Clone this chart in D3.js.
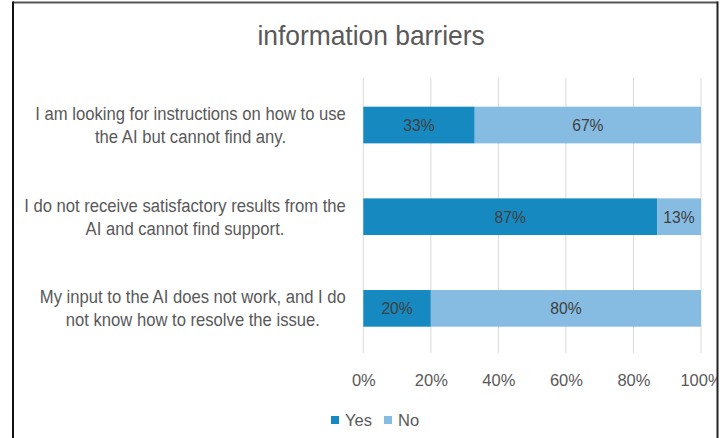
<!DOCTYPE html>
<html>
<head>
<meta charset="utf-8">
<script src="https://cdn.jsdelivr.net/npm/d3@7"></script>
<style>
  html, body { margin: 0; padding: 0; background: #fff; }
  svg { display: block; }
  text { font-family: "Liberation Sans", Arial, sans-serif; }
</style>
</head>
<body>
<svg id="chart" width="725" height="438"></svg>
<script>
// Survey answers per barrier (share of respondents, %)
const categories = [
  ["I am looking for instructions on how to use", "the AI but cannot find any."],
  ["I do not receive satisfactory results from the", "AI and cannot find support."],
  ["My input to the AI does not work, and I do", "not know how to resolve the issue."]
];
const seriesNames = ["Yes", "No"];
const yesValues = [33, 87, 20];
const noValues = [67, 13, 80];
const tickValues = [0, 20, 40, 60, 80, 100];
const titleText = "information barriers";

const colors = { Yes: "#1589C0", No: "#86BBE2" };
const textColor = "#595959";

const svg = d3.select("#chart");
const W = 725, H = 438;

// narrow-looking text: place at (px, py) and squeeze horizontally by k
function narrowText(parent, px, py, k) {
  return parent.append("text")
    .attr("transform", `translate(${px},${py}) scale(${k},1)`);
}

// chart frame (top and left edges)
svg.append("line").attr("x1", 13).attr("x2", 718).attr("y1", 2.5).attr("y2", 2.5)
  .attr("stroke", "#555").attr("stroke-width", 2);
svg.append("line").attr("x1", 13).attr("x2", 13).attr("y1", 1.5).attr("y2", H)
  .attr("stroke", "#111").attr("stroke-width", 2);

// clip everything to the frame interior
svg.append("clipPath").attr("id", "inner")
  .append("rect").attr("x", 14).attr("y", 3.5).attr("width", 703).attr("height", H);
const g = svg.append("g").attr("clip-path", "url(#inner)");

const x = d3.scaleLinear().domain([0, 100]).range([363.3, 701]);
const y = d3.scaleBand().domain(d3.range(categories.length))
  .range([79.2, 354.2]).paddingInner(0.6).paddingOuter(0.3);

// title
narrowText(g, 371, 45, 0.96)
  .attr("text-anchor", "middle")
  .attr("font-size", 27.5)
  .attr("fill", textColor)
  .text(titleText);

// vertical gridlines
g.append("g").selectAll("line").data(tickValues).join("line")
  .attr("x1", d => x(d)).attr("x2", d => x(d))
  .attr("y1", 78).attr("y2", 353)
  .attr("stroke", "#D9D9D9").attr("stroke-width", 1);

// stacked bars
const stacked = categories.map((c, i) => [
  { key: "Yes", x0: 0, x1: yesValues[i], v: yesValues[i], i },
  { key: "No", x0: yesValues[i], x1: yesValues[i] + noValues[i], v: noValues[i], i }
]).flat();

g.append("g").selectAll("rect").data(stacked).join("rect")
  .attr("x", d => x(d.x0))
  .attr("width", d => x(d.x1) - x(d.x0))
  .attr("y", d => y(d.i))
  .attr("height", y.bandwidth())
  .attr("fill", d => colors[d.key]);

// data labels
const dl = g.append("g");
stacked.forEach(d => {
  narrowText(dl, (x(d.x0) + x(d.x1)) / 2, y(d.i) + y.bandwidth() / 2, 0.95)
    .attr("dy", "0.36em")
    .attr("text-anchor", "middle")
    .attr("font-size", 16.5)
    .attr("fill", "#404040")
    .text(d.v + "%");
});

// category labels: centred lines, block right-aligned next to the axis
const labelRight = 346;
const lineH = 23;
const kCat = 0.9;
const catG = g.append("g");
categories.forEach((lines, i) => {
  const cy = y(i) + y.bandwidth() / 2;
  const texts = lines.map(ln => catG.append("text")
    .attr("font-size", 18.5)
    .attr("fill", textColor)
    .attr("text-anchor", "middle")
    .attr("dy", "0.35em")
    .text(ln));
  const w = d3.max(texts, t => t.node().getComputedTextLength()) * kCat;
  texts.forEach((t, k) => t.attr("transform",
    `translate(${labelRight - w / 2},${cy + (k - (lines.length - 1) / 2) * lineH}) scale(${kCat},1)`));
});

// x axis tick labels
const xAxis = d3.axisBottom(x).tickValues(tickValues).tickFormat(d => d + "%").tickSize(0).tickPadding(0);
const ax = g.append("g").attr("transform", "translate(0,380)").call(xAxis);
ax.attr("font-family", null).attr("font-size", null);
ax.select(".domain").remove();
ax.selectAll("text")
  .attr("dy", "0.35em").attr("y", 0)
  .attr("font-size", 16.5)
  .attr("fill", textColor);

// legend
const leg = g.append("g").attr("transform", "translate(331,420)");
const items = leg.selectAll("g").data(seriesNames).join("g")
  .attr("transform", (d, i) => `translate(${i * 53},0)`);
items.append("rect").attr("x", 0).attr("y", -4).attr("width", 8).attr("height", 8)
  .attr("fill", d => colors[d]);
items.append("text").attr("x", 14).attr("dy", "0.36em")
  .attr("font-size", 16.5).attr("fill", textColor).text(d => d);

// right frame edge, drawn over the clipped tick label
svg.append("line").attr("x1", 717.5).attr("x2", 717.5).attr("y1", 1.5).attr("y2", H)
  .attr("stroke", "#222").attr("stroke-width", 2);
</script>
</body>
</html>
